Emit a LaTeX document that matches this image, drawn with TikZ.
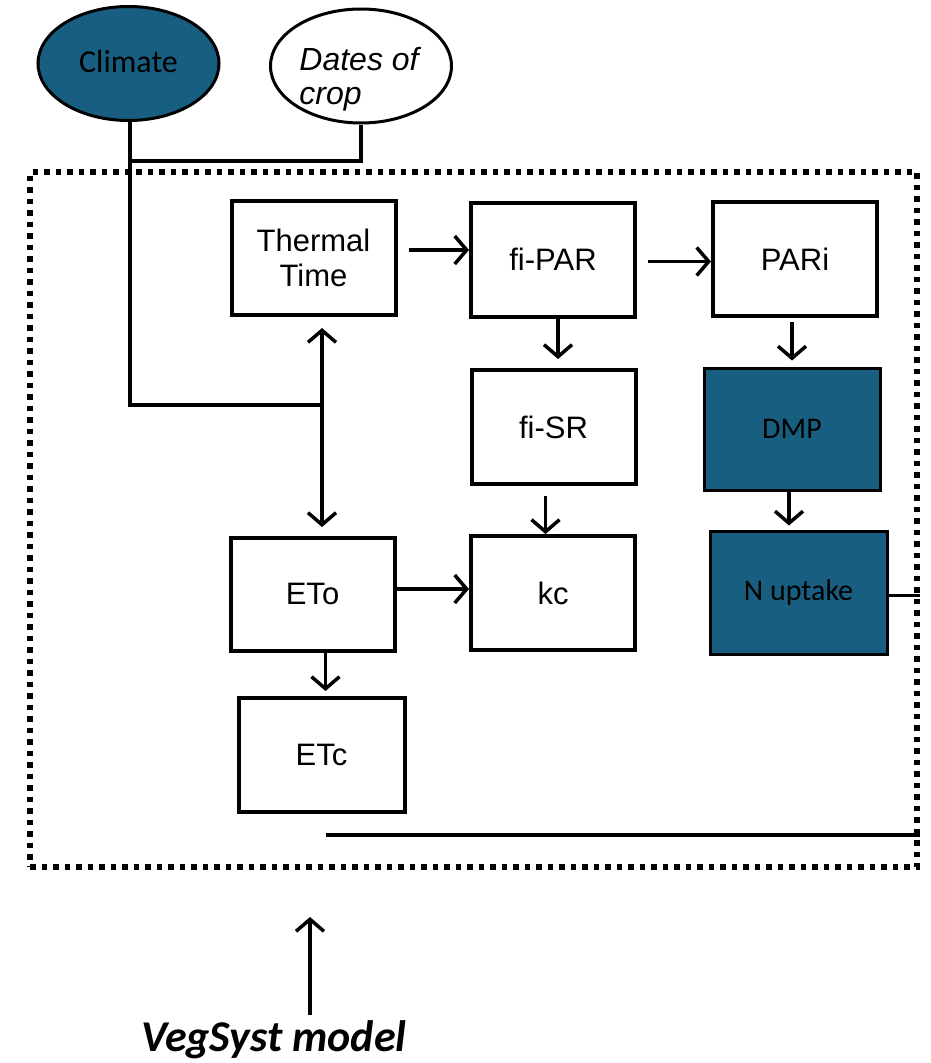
\documentclass[tikz,border=0pt]{standalone}
\usepackage{fontspec}
\setmainfont{Liberation Sans}
\newfontfamily\calfont{Carlito}
\usetikzlibrary{arrows.meta,shapes.geometric}
\definecolor{teal}{RGB}{23,94,128}
\tikzset{
  box/.style={draw, line width=4pt, inner sep=0pt, align=center,
    minimum width=164pt, minimum height=114pt,
    font=\fontsize{31}{35}\selectfont},
  darkbox/.style={box, line width=3pt, fill=teal, font=\calfont\fontsize{30}{34}\selectfont},
  oval/.style={ellipse, draw, line width=3pt, inner sep=0pt,
    minimum width=181pt, minimum height=114pt},
  link/.style={line width=3.5pt},
  arr/.style={link, -{Straight Barb[length=12pt,width=28pt]}},
  arrs/.style={link, {Straight Barb[length=12pt,width=28pt]}-{Straight Barb[length=12pt,width=28pt]}},
  frame/.style={draw, line width=6pt, dash pattern=on 5.5pt off 6pt,
    inner sep=0pt, minimum width=887pt, minimum height=695pt}
}
\begin{document}
\begin{tikzpicture}[x=1pt, y=-1pt]
\useasboundingbox (0,0) rectangle (930,1063);

% model boundary
\node[frame] (model) at (473.5,519.5) {};

% inputs
\node[oval, fill=teal, font=\calfont\fontsize{32}{36}\selectfont] (climate) at (128.5,63.5) {\raisebox{5pt}{Climate}};
\node[oval] (dates) at (361,66) {};
\node[font=\itshape\fontsize{32}{34}\selectfont, align=left] (datestxt) at (359,79) {Dates of\\crop};

% process boxes
\node[box] (tt)    at (313.5,258) {Thermal\\Time};
\node[box] (fipar) at (553,259.5) {fi-PAR};
\node[box] (pari)  at (795,259)   {PARi};
\node[box] (fisr)  at (553.5,427) {fi-SR};
\node[darkbox, minimum width=176pt, minimum height=122pt] (dmp) at (792,429) {DMP};
\node[darkbox, minimum width=177pt, minimum height=123pt] (nup) at (798.5,592.5) {N uptake};
\node[box, minimum height=113pt] (eto) at (312.5,594) {ETo};
\node[box] (kc)    at (553,593)   {kc};
\node[box, minimum width=166pt] (etc) at (321.5,755) {ETc};

% free ends and junctions
\coordinate (jc)  at (130,161);
\coordinate (jt)  at (322,405);
\coordinate (low) at (326,835);
\coordinate (tail) at (310,1015);
\coordinate (head) at (310,917);

% input wiring
\draw[link] (jc |- climate.south) -- (jc) -- (jc -| dates.south) -- (dates.south);
\draw[link] (jc) -- (jc |- jt) -- (jt);
\draw[arrs] (322,328) -- (322,527);

% flows between boxes
\draw[arr, shorten <=11pt] ([yshift=8pt]tt.east) -- ([yshift=8pt]tt.east -| fipar.west);
\draw[arr, shorten <=11pt] ([yshift=-2pt]fipar.east) -- ([yshift=-2pt]fipar.east -| pari.west);
\draw[arr, shorten >=9pt] ([xshift=5pt]fipar.south) -- ([xshift=5pt]fipar.south |- fisr.north);
\draw[arr, shorten <=4pt, shorten >=6pt] ([xshift=-3pt]pari.south) -- ([xshift=-3pt]pari.south |- dmp.north);
\draw[arr, shorten >=4pt] ([xshift=-3pt]dmp.south) -- ([xshift=-3pt]dmp.south |- nup.north);
\draw[arr, shorten <=10pt] ([xshift=-8pt]fisr.south) -- ([xshift=-8pt]fisr.south |- kc.north);
\draw[arr] ([yshift=5pt]eto.east) -- ([yshift=5pt]eto.east -| kc.west);
\draw[arr, shorten >=5pt] ([xshift=13pt]eto.south) -- ([xshift=13pt]eto.south |- etc.north);

% outputs to the boundary
\draw[link] ([yshift=-3pt]nup.east) -- ([yshift=-3pt]nup.east -| model.east);
\draw[link] (low) -- (low -| model.east);

% model label
\draw[arr] (tail) -- (head);
\node[font=\calfont\bfseries\itshape\fontsize{44}{48}\selectfont, anchor=base, inner sep=0pt] (label) at (274,1051) {VegSyst model};
\end{tikzpicture}
\end{document}
